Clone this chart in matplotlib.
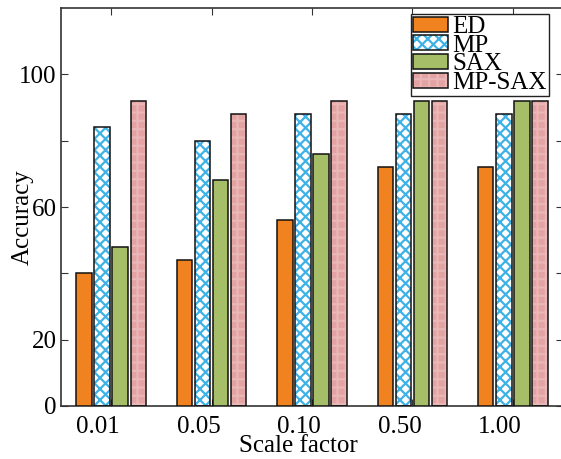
import matplotlib
matplotlib.use("Agg")
import matplotlib.pyplot as plt
import matplotlib.transforms as mtransforms
import numpy as np
from matplotlib.patches import Patch
from matplotlib.legend_handler import HandlerTuple

categories = ["0.01", "0.05", "0.10", "0.50", "1.00"]
series_names = ["ED", "MP", "SAX", "MP-SAX"]
ed = [40, 44, 56, 72, 72]
mp = [84, 80, 88, 88, 88]
sax = [48, 68, 76, 92, 92]
mpsax = [92, 88, 92, 92, 92]
yticks = [0, 20, 40, 60, 80, 100]
ytick_labels = ["0", "20", "", "60", "", "100"]

plt.rcParams['font.family'] = ['Liberation Serif', 'DejaVu Serif']
plt.rcParams['hatch.linewidth'] = 1.6
FS = 18

fig = plt.figure(figsize=(5.61, 4.59), dpi=100)
W, H = 561, 459
ax = fig.add_axes([61 / W, 1 - 406 / H, (563 - 61) / W, (406 - 8) / H])

x = np.arange(len(categories))
pitch = 0.18
width = 0.155
offsets = [-1.5 * pitch, -0.5 * pitch, 0.5 * pitch, 1.5 * pitch]
styles = [
    dict(face="#F0831F", hatch=None, hc=None),
    dict(face="#FFFFFF", hatch="xxx", hc="#3EB2E6"),
    dict(face="#A6BE68", hatch=None, hc=None),
    dict(face="#E4A3A3", hatch="++", hc="#EBB6B6"),
]
data = [ed, mp, sax, mpsax]
handles = []
for vals, off, st, name in zip(data, offsets, styles, series_names):
    if st["hatch"]:
        ax.bar(x + off, vals, width, color=st["face"], hatch=st["hatch"],
               edgecolor=st["hc"], linewidth=0, zorder=2)
        ax.bar(x + off, vals, width, fill=False, edgecolor="#111111",
               linewidth=1.1, zorder=3)
        h = (Patch(facecolor=st["face"], hatch=st["hatch"], edgecolor=st["hc"], linewidth=0),
             Patch(fill=False, edgecolor="#111111", linewidth=1.1))
    else:
        ax.bar(x + off, vals, width, color=st["face"], edgecolor="#111111",
               linewidth=1.1, zorder=3)
        h = Patch(facecolor=st["face"], edgecolor="#111111", linewidth=1.1)
    handles.append(h)

ax.set_xlim(-0.5, len(categories) - 0.5)
ax.set_ylim(0, 120)
ax.set_xticks(x)
ax.set_xticklabels(categories, fontsize=FS)
ax.set_yticks(yticks)
ax.set_yticklabels(ytick_labels, fontsize=FS)
ax.tick_params(direction="in", length=5, width=0.8, top=True, right=True,
               colors="#333333", labelcolor="black")
ax.tick_params(axis="x", pad=7)
ax.tick_params(axis="y", pad=3)
shift = mtransforms.ScaledTranslation(-13 / 100, 0, fig.dpi_scale_trans)
for lab in ax.get_xticklabels():
    lab.set_transform(lab.get_transform() + shift)
for s in ax.spines.values():
    s.set_linewidth(1.2)
    s.set_color("#333333")

ax.set_xlabel("Scale factor", fontsize=FS)
ax.xaxis.set_label_coords((298 - 61) / (563 - 61), -0.074)
ax.set_ylabel("Accuracy", fontsize=FS)
ax.yaxis.set_label_coords(-0.054, 0.475)

leg = fig.legend(handles, series_names, loc="upper right",
                 bbox_to_anchor=(549 / W, 1 - 14 / H), fontsize=FS,
                 handler_map={tuple: HandlerTuple(ndivide=1)},
                 frameon=True, fancybox=False, edgecolor="#222222",
                 framealpha=1, borderpad=0.08, borderaxespad=0,
                 labelspacing=-0.13, handlelength=1.4, handleheight=0.55,
                 handletextpad=0.2)
leg.get_frame().set_linewidth(1.0)

fig.savefig("out.png", dpi=100)
